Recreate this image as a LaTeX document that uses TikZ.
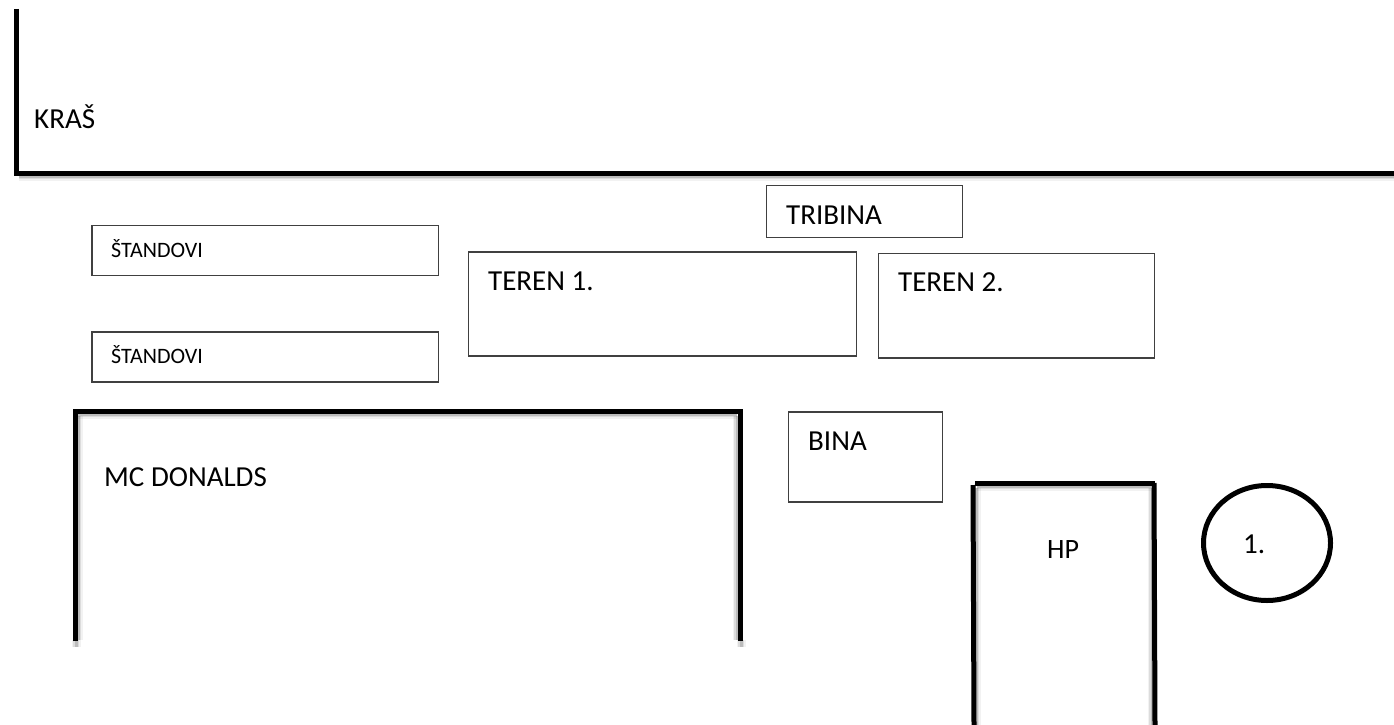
\documentclass[tikz,border=0pt]{standalone}
\usepackage{fontspec}
\setmainfont{Carlito}
\colorlet{edge}{black!75}
\tikzset{
  x=1pt,y=-1pt,
  box/.style={draw=edge,line width=1.2pt,fill=white,anchor=north west,inner sep=0pt,outer sep=0pt},
  heavy/.style={draw=black,line width=5pt,line cap=butt},
  halo a/.style={draw=black,line width=9pt,opacity=.05,line cap=butt},
  halo b/.style={draw=black,line width=6pt,opacity=.09,line cap=butt},
  halo c/.style={draw=black,line width=3pt,opacity=.14,line cap=butt},
  big/.style={anchor=base west,inner sep=0pt,font=\fontsize{29}{34}\selectfont},
  hp label/.style={anchor=base west,inner sep=0pt,font=\fontsize{28}{32}\selectfont},
  small label/.style={anchor=base west,inner sep=0pt,font=\fontsize{22}{26}\selectfont},
}
\newcommand{\softline}[2]{%
  \draw[halo a] #1 -- #2;
  \draw[halo b] #1 -- #2;
  \draw[halo c] #1 -- #2;
}
\begin{document}
\begin{tikzpicture}
\useasboundingbox (0,0) rectangle (1394,725);
\fill[white] (0,0) rectangle (1394,725);
% shadows
\softline{(19,176)}{(1394,176)}
\softline{(78,414)}{(737,414)}
\softline{(977,486)}{(1151,486)}
\softline{(76,640)}{(76,647)}
\softline{(741,640)}{(741,647)}
\softline{(976,488)}{(976,725)}
\softline{(1152,488)}{(1152,725)}
\softline{(737,416)}{(737,640)}
\softline{(78,416)}{(78,640)}
% KRAS wall
\draw[heavy] (16,9) -- (16,176);
\draw[heavy] (14,173) -- (1394,173);
% Boxes
\node[box,minimum width=346.5pt,minimum height=50pt] (st1) at (92,225.5) {};
\node[box,minimum width=346.5pt,minimum height=50pt] (st2) at (92,332) {};
\node[box,minimum width=388.5pt,minimum height=104pt] (t1) at (468.3,252) {};
\node[box,minimum width=276.5pt,minimum height=104.5pt] (t2) at (878.3,253.5) {};
\node[box,minimum width=196pt,minimum height=52pt] (tr) at (766.7,185.7) {};
\node[box,minimum width=154pt,minimum height=90pt] (bi) at (788.3,412) {};
% MC Donalds
\draw[heavy] (75,641) -- (75,409);
\draw[heavy] (73,411) -- (742,411);
\draw[heavy] (740,409) -- (740,641);
% HP
\draw[heavy] (973,485) -- (974,725);
\draw[heavy] (975,483) -- (1155,483);
\draw[heavy] (1154,483) -- (1155,725);
% Circle
\draw[black,line width=5pt] (1267,543) ellipse [x radius=63.5,y radius=57.5];
% Text
\node[big] (kras) at (34,128) {KRAŠ};
\node[small label] (s1t) at (111,257) {ŠTANDOVI};
\node[small label] (s2t) at (111,363.5) {ŠTANDOVI};
\node[big] (t1t) at (488,290.7) {TEREN 1.};
\node[big] (t2t) at (898,291.5) {TEREN 2.};
\node[big] (trt) at (786,224) {TRIBINA};
\node[big] (bit) at (808,450) {BINA};
\node[big] (mct) at (104,486) {MC DONALDS};
\node[hp label] (hpt) at (1047,558) {HP};
\node[big] (one) at (1243,553) {1.};
\end{tikzpicture}
\end{document}
